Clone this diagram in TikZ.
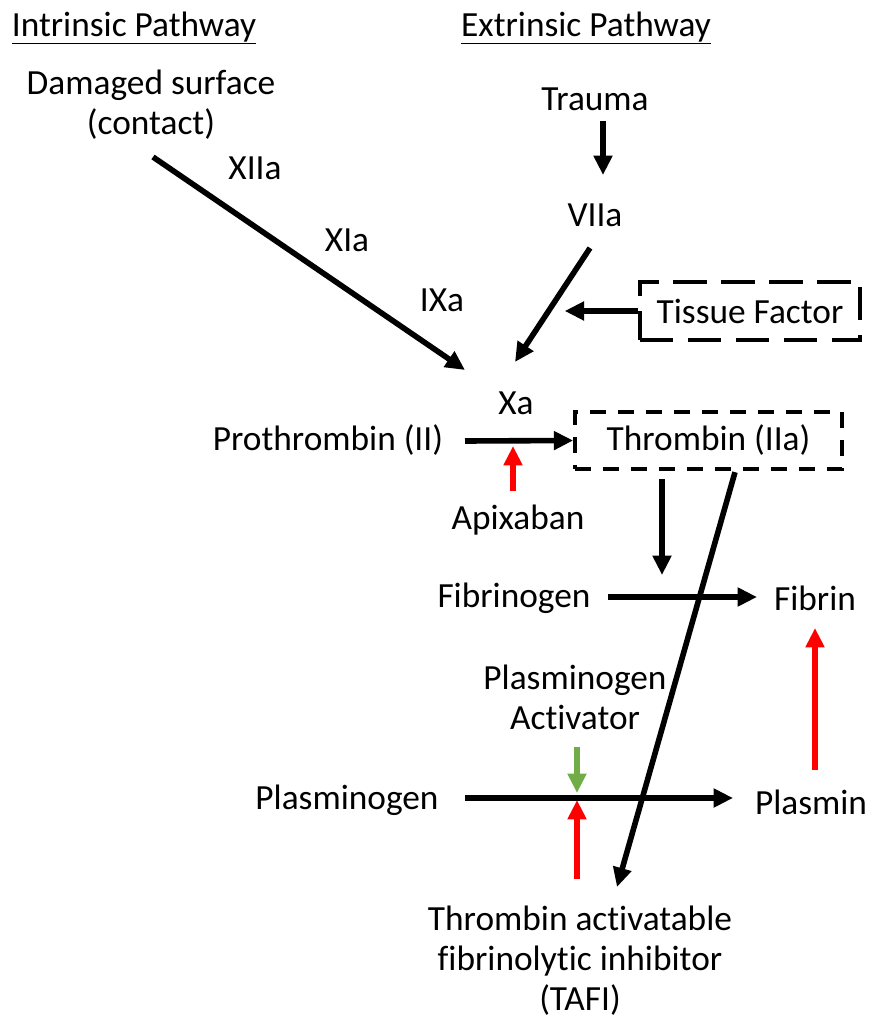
\documentclass[tikz,border=0pt]{standalone}
\usepackage{fontspec}
\setmainfont{Carlito}[Ligatures=NoCommon]
\usetikzlibrary{arrows.meta}
\definecolor{actgreen}{RGB}{112,173,71}
\begin{document}
\begin{tikzpicture}[x=0.75pt,y=-0.75pt,
  lbl/.style={font=\fontsize{26.5}{30}\selectfont, inner sep=0pt, align=center},
  arr/.style={line width=4.2pt, -{Triangle[length=14.5pt,width=13.5pt]}},
  redarr/.style={arr, draw=red},
  greenarr/.style={arr, draw=actgreen, line width=4pt},
  tfbox/.style={lbl, draw, line width=3pt, dash pattern=on 25pt off 11pt, minimum width=165pt, minimum height=44pt},
  thbox/.style={lbl, draw, line width=3pt, dash pattern=on 12pt off 9pt, minimum width=200pt, minimum height=43pt}
]
\useasboundingbox (0,0) rectangle (887,1023);
% headers
\node[lbl] (intr) at (134,28) {\underline{Intrinsic Pathway}};
\node[lbl] (extr) at (586,28) {\underline{Extrinsic Pathway}};
% nodes
\node[lbl] (dmg) at (151,105) {Damaged surface\\(contact)};
\node[lbl] (trauma) at (595,99) {Trauma};
\node[lbl] (viia) at (595,215) {VIIa};
\node[lbl] (xiia) at (255,168) {XIIa};
\node[lbl] (xia) at (347,240) {XIa};
\node[lbl] (ixa) at (442,300) {IXa};
\node[tfbox] (tf) at (750,311) {Tissue Factor};
\node[lbl] (xa) at (516,403) {Xa};
\node[lbl] (pro) at (328,440) {Prothrombin (II)};
\node[thbox] (thr) at (708.5,440.5) {Thrombin (IIa)};
\node[lbl] (apx) at (518,520) {Apixaban};
\node[lbl] (fibg) at (514,598) {Fibrinogen};
\node[lbl] (fib) at (815,598) {Fibrin};
\node[lbl] (pa) at (575,697) {Plasminogen\\Activator};
\node[lbl] (plg) at (347,800) {Plasminogen};
\node[lbl] (pls) at (811,802) {Plasmin};
\node[lbl] (tafi) at (580,961) {Thrombin activatable\\fibrinolytic inhibitor\\(TAFI)};
% connectors
\draw[arr] ([shift={(8,22)}]trauma.center) -- ([shift={(8,-40)}]viia.center);
\draw[arr] ([shift={(-5,33)}]viia.center) -- ([shift={(-1,-41)}]xa.center);
\draw[arr] ([shift={(2,52)}]dmg.center) -- ([shift={(-51,-33)}]xa.center);
\draw[arr] (tf.west) -- ([xshift=-55]tf.west);
\draw[arr] ([shift={(137,1)}]pro.center) -- (thr.west);
\draw[redarr] ([shift={(-5,-29)}]apx.center) -- ([shift={(-5,-74)}]apx.center);
\draw[arr] ([shift={(-46.5,8)}]thr.south) -- ([shift={(148,-23)}]fibg.center);
\draw[arr] ([shift={(94,-1)}]fibg.center) -- ([shift={(-58,-1)}]fib.center);
\draw[redarr] ([shift={(4,-32)}]pls.center) -- ([shift={(0,30)}]fib.center);
\draw[greenarr] ([shift={(2,50)}]pa.center) -- ([shift={(2,96)}]pa.center);
\draw[arr] ([shift={(118,-2)}]plg.center) -- ([shift={(-78,-4)}]pls.center);
\draw[redarr] ([shift={(-3,-82)}]tafi.center) -- ([shift={(-3,-161)}]tafi.center);
\draw[arr] ([shift={(26.5,1)}]thr.south) -- ([shift={(37,-74)}]tafi.center);
\end{tikzpicture}
\end{document}
